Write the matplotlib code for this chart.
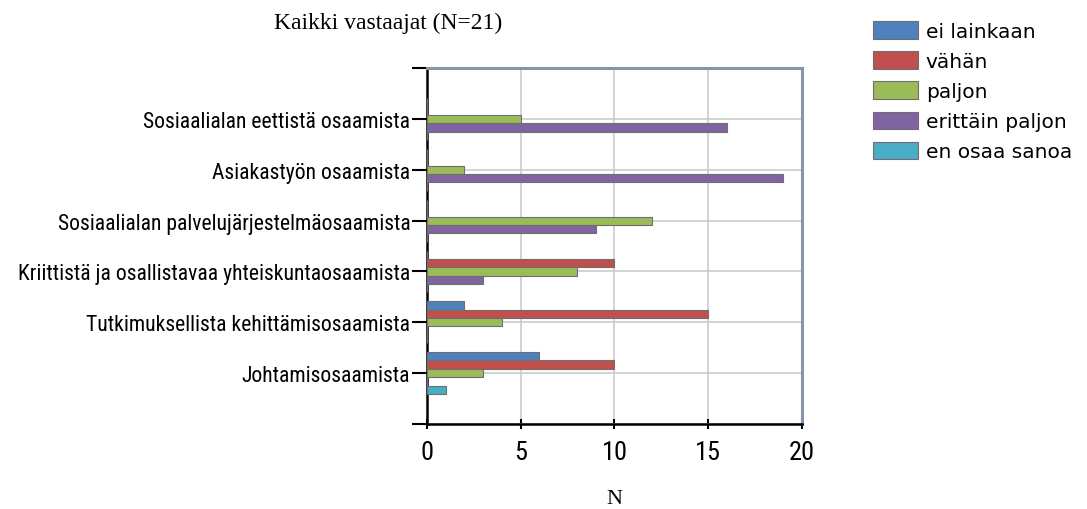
import os
import matplotlib
matplotlib.use("Agg")
import matplotlib.pyplot as plt
from matplotlib.font_manager import findfont, FontProperties
import numpy as np

# data
categories = [
    "Sosiaalialan eettistä osaamista",
    "Asiakastyön osaamista",
    "Sosiaalialan palvelujärjestelmäosaamista",
    "Kriittistä ja osallistavaa yhteiskuntaosaamista",
    "Tutkimuksellista kehittämisosaamista",
    "Johtamisosaamista",
]
series_names = ["ei lainkaan", "vähän", "paljon", "erittäin paljon", "en osaa sanoa"]
ei_lainkaan = [0, 0, 0, 0, 2, 6]
vahan = [0, 0, 0, 10, 15, 10]
paljon = [5, 2, 12, 8, 4, 3]
erittain_paljon = [16, 19, 9, 3, 0, 0]
en_osaa_sanoa = [0, 0, 0, 0, 0, 1]
colors = ["#4F81BD", "#C0504D", "#9BBB59", "#8064A2", "#4BACC6"]
x_ticks = [0, 5, 10, 15, 20]

# try to find a narrow sans font, else use Liberation Sans a bit smaller
narrow_props = None
for fam, st in [("Liberation Sans Narrow", "normal"), ("Roboto Condensed", "normal"),
                ("DejaVu Sans", "condensed"), ("Noto Sans", "condensed"),
                ("Open Sans", "condensed"), ("Roboto", "condensed")]:
    try:
        f = findfont(FontProperties(family=fam, stretch=st), fallback_to_default=False)
    except Exception:
        continue
    name = os.path.basename(f).lower()
    if "narrow" in name or "condensed" in name:
        narrow_props = dict(family=fam, stretch=st)
        break

if narrow_props:
    cat_font = dict(narrow_props, size=15.6)
    num_font = dict(narrow_props, size=19)
else:
    cat_font = dict(family=["Liberation Sans", "DejaVu Sans"], size=14)
    num_font = dict(family=["Liberation Sans", "DejaVu Sans"], size=17)

serif = ["Liberation Serif", "DejaVu Serif"]

fig = plt.figure(figsize=(10.87, 5.10), dpi=100)
ax = fig.add_axes([0.3928, 0.167, 0.3450, 0.697])

pos = np.arange(1, len(categories) + 1)
h = 0.165
all_series = [ei_lainkaan, vahan, paljon, erittain_paljon, en_osaa_sanoa]
for i, (name, vals, c) in enumerate(zip(series_names, all_series, colors)):
    ax.barh(pos + (i - 2) * h, vals, height=h, color=c, edgecolor="#6e6e6e",
            linewidth=0.8, label=name, zorder=3)

ax.set_ylim(7, 0)
ax.set_xlim(0, 20)
ax.set_yticks(range(0, 8))
ax.set_yticklabels([""] + categories + [""], **cat_font)
ax.set_xticks(x_ticks)
ax.set_xticklabels([str(t) for t in x_ticks], **num_font)
ax.grid(True, color="#cccccc", linewidth=1.2, zorder=0)
ax.tick_params(axis="y", length=11, width=1.5, pad=1)
ax.tick_params(axis="x", direction="inout", length=7, width=1.5, pad=8)

for s in ["left", "bottom"]:
    ax.spines[s].set_linewidth(1.8)
    ax.spines[s].set_color("black")
for s in ["top", "right"]:
    ax.spines[s].set_linewidth(2.2)
    ax.spines[s].set_color("#8795ab")

ax.set_xlabel("N", fontsize=16, family=serif, labelpad=18)
fig.text(0.3575, 0.955, "Kaikki vastaajat (N=21)", fontsize=17, family=serif,
         ha="center", va="center")

ax.legend(loc="upper left", bbox_to_anchor=(0.796, 0.972), bbox_transform=fig.transFigure,
          frameon=False, fontsize=14.5, handlelength=2.2, handleheight=0.95,
          handletextpad=0.4, labelspacing=0.52, borderaxespad=0)

fig.savefig("out.png", dpi=100)
